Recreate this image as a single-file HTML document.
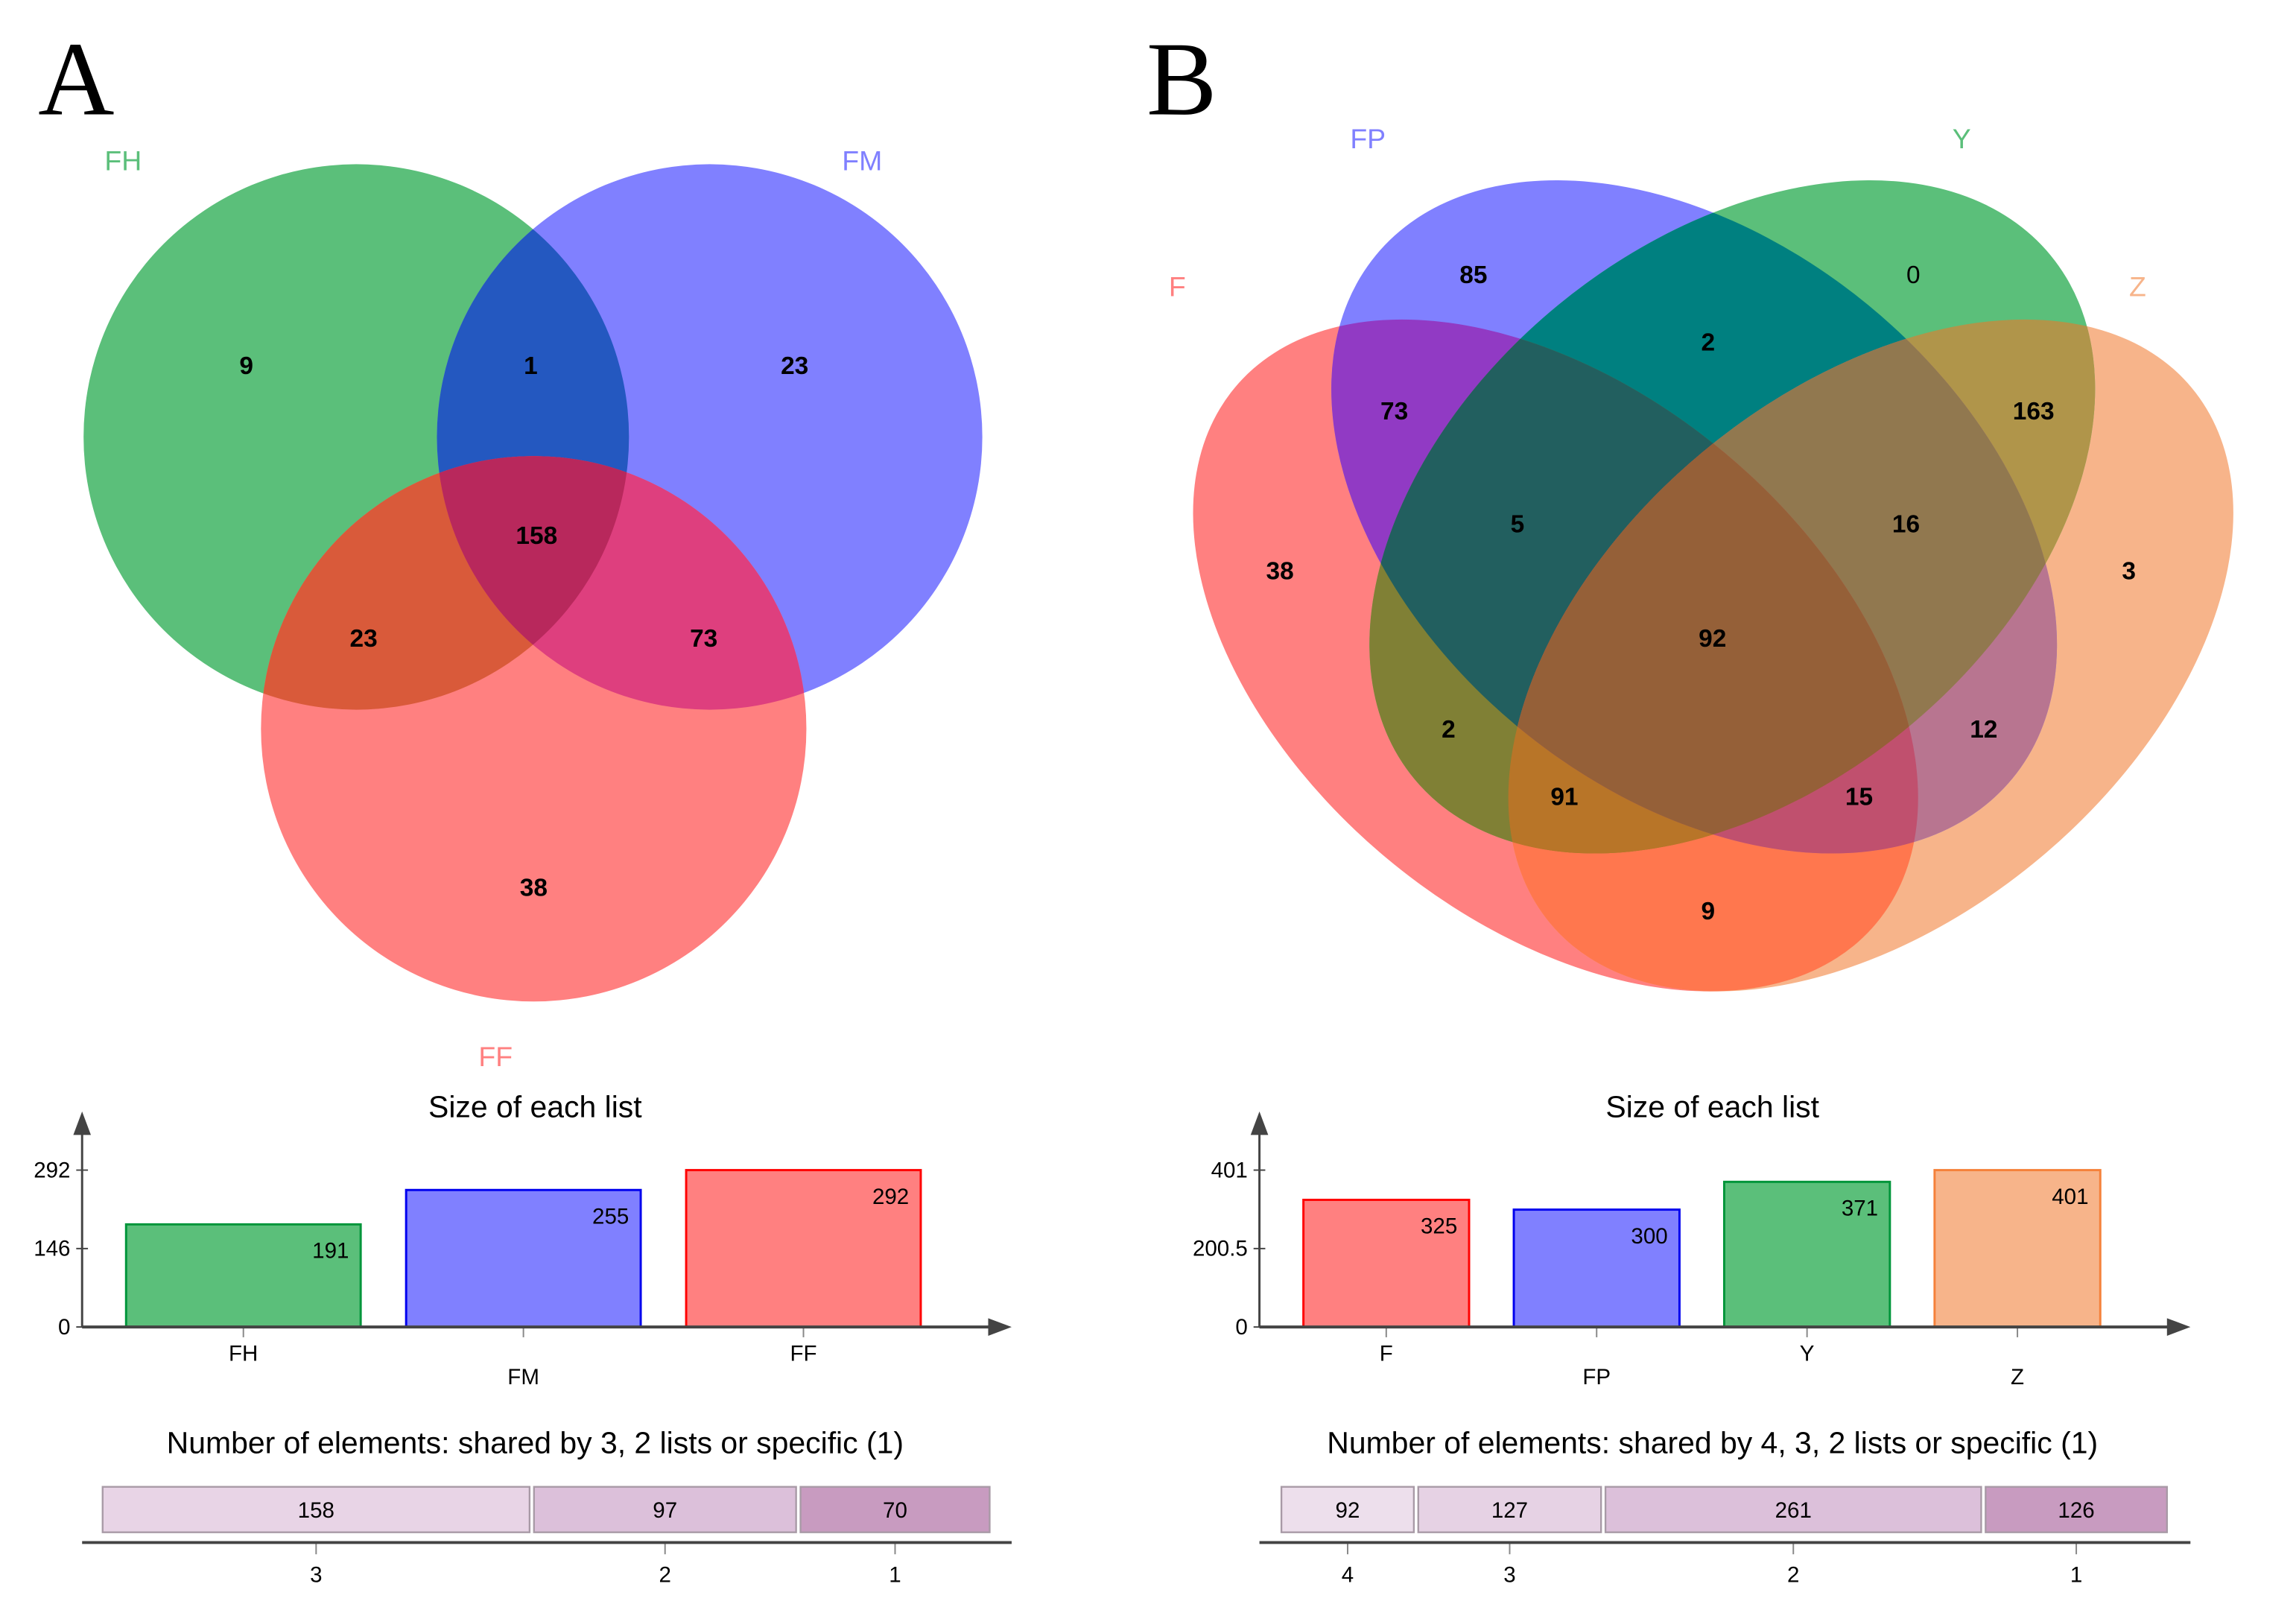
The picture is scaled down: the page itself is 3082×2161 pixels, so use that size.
<!DOCTYPE html>
<html><head><meta charset="utf-8"><style>
html,body{margin:0;padding:0;background:#fff;}
svg{display:block;}
text{font-family:"Liberation Sans",sans-serif;}
</style></head><body>
<svg id="root" xmlns="http://www.w3.org/2000/svg" width="3082" height="2161" viewBox="0 0 1566 1098" preserveAspectRatio="none">
<defs>
<clipPath id="cFH"><circle cx="243" cy="298" r="186"/></clipPath>
<clipPath id="cFM"><circle cx="484" cy="298" r="186"/></clipPath>
<clipPath id="cFF"><circle cx="364" cy="497" r="186"/></clipPath>
<clipPath id="cF"><ellipse cx="1061" cy="447" rx="285" ry="180" transform="rotate(39.9 1061 447)"/></clipPath>
<clipPath id="cFP"><ellipse cx="1155.5" cy="352.5" rx="281" ry="187" transform="rotate(39.4 1155.5 352.5)"/></clipPath>
<clipPath id="cY"><ellipse cx="1181.5" cy="352.5" rx="281" ry="187" transform="rotate(-39.4 1181.5 352.5)"/></clipPath>
<clipPath id="cZ"><ellipse cx="1276" cy="447" rx="285" ry="180" transform="rotate(-39.9 1276 447)"/></clipPath>
</defs>
<text x="52" y="78" font-size="72" text-anchor="middle" style="font-family:'Liberation Serif',serif">A</text>
<text x="806" y="78" font-size="72" text-anchor="middle" style="font-family:'Liberation Serif',serif">B</text>
<g id="vennA"></g>
<g id="vennB"></g>
<g id="barsA"></g>
<g id="barsB"></g>
<g id="shareA"></g>
<g id="shareB"></g>
</svg>
<script>
const NS="http://www.w3.org/2000/svg";
// Venn A data
const vennASets=["FH","FM","FF"];
const vennAValues=[9,1,23,158,23,73,38];
// Venn B data
const vennBSets=["F","FP","Y","Z"];
const vennBValues=[85,0,2,73,163,5,16,38,3,92,2,12,91,15,9];
// Bar chart A
const listA=["FH","FM","FF"];
const sizeA=[191,255,292];
const ticksA=[0,146,292];
// Bar chart B
const listB=["F","FP","Y","Z"];
const sizeB=[325,300,371,401];
const ticksB=[0,200.5,401];
// Shared A
const sharedCatA=["3","2","1"];
const sharedValA=[158,97,70];
// Shared B
const sharedCatB=["4","3","2","1"];
const sharedValB=[92,127,261,126];

function mk(tag,attrs,parent,txt){const e=document.createElementNS(NS,tag);for(const k in attrs)e.setAttribute(k,attrs[k]);if(txt!==undefined)e.textContent=txt;parent.appendChild(e);return e;}
function region(parent,clips,shape,fill,name){
  let p=parent;
  for(const c of clips){p=mk('g',{'clip-path':'url(#'+c+')'},p);}
  const s=mk(shape.t,Object.assign({},shape.a,{fill:fill}),p);
  
  
}
// Venn A
const vA=document.getElementById('vennA');
const cA={FH:{t:'circle',a:{cx:243,cy:298,r:186}},FM:{t:'circle',a:{cx:484,cy:298,r:186}},FF:{t:'circle',a:{cx:364,cy:497,r:186}}};
region(vA,[],cA.FH,'#5bbf7a','circle-fh');
region(vA,[],cA.FM,'#8080ff','circle-fm');
region(vA,[],cA.FF,'#ff8080','circle-ff');
region(vA,['cFH'],cA.FM,'#2458c0','overlap-fh-fm');
region(vA,['cFH'],cA.FF,'#d95a3a','overlap-fh-ff');
region(vA,['cFM'],cA.FF,'#de3f7e','overlap-fm-ff');
region(vA,['cFH','cFM'],cA.FF,'#b8285c','overlap-all-a');
const vAPos=[[168,249],[362,249],[542,249],[366,365],[248,435],[480,435],[364,605]];
vennAValues.forEach((v,i)=>{const t=mk('text',{x:vAPos[i][0],y:vAPos[i][1]+6,'font-size':17,'font-weight':'bold','text-anchor':'middle'},vA,v);

});
const vALab=[[84,109,'#5bbf7a'],[588,109,'#8080ff'],[338,720,'#ff8080']];
vennASets.forEach((s,i)=>{const t=mk('text',{x:vALab[i][0],y:vALab[i][1]+7,'font-size':19,fill:vALab[i][2],'text-anchor':'middle'},vA,s);

});
// Venn B
const vB=document.getElementById('vennB');
const eB={F:{t:'ellipse',a:{cx:1061,cy:447,rx:285,ry:180,transform:'rotate(39.9 1061 447)'}},
FP:{t:'ellipse',a:{cx:1155.5,cy:352.5,rx:281,ry:187,transform:'rotate(39.4 1155.5 352.5)'}},
Y:{t:'ellipse',a:{cx:1181.5,cy:352.5,rx:281,ry:187,transform:'rotate(-39.4 1181.5 352.5)'}},
Z:{t:'ellipse',a:{cx:1276,cy:447,rx:285,ry:180,transform:'rotate(-39.9 1276 447)'}}};
region(vB,[],eB.F,'#ff8080','ellipse-f');
region(vB,[],eB.Z,'#f7b48a','ellipse-z');
region(vB,[],eB.FP,'#8080ff','ellipse-fp');
region(vB,[],eB.Y,'#5bbf7a','ellipse-y');
region(vB,['cF'],eB.FP,'#913ac4','overlap-f-fp');
region(vB,['cFP'],eB.Y,'#008080','overlap-fp-y');
region(vB,['cY'],eB.Z,'#b0954a','overlap-y-z');
region(vB,['cF'],eB.Z,'#ff774e','overlap-f-z');
region(vB,['cF'],eB.Y,'#808035','overlap-f-y');
region(vB,['cFP'],eB.Z,'#b87590','overlap-fp-z');
region(vB,['cF','cFP'],eB.Y,'#225f5f','overlap-f-fp-y');
region(vB,['cFP','cY'],eB.Z,'#91784f','overlap-fp-y-z');
region(vB,['cF','cY'],eB.Z,'#b87528','overlap-f-y-z');
region(vB,['cF','cFP'],eB.Z,'#c0506e','overlap-f-fp-z');
region(vB,['cF','cFP','cY'],eB.Z,'#956038','overlap-all-b');
const vBPos=[[1005,187],[1305,187],[1165,233],[951,280],[1387,280],[1035,357],[1300,357],[873,389],[1452,389],[1168,435],[988,497],[1353,497],[1067,543],[1268,543],[1165,621]];
vennBValues.forEach((v,i)=>{const t=mk('text',{x:vBPos[i][0],y:vBPos[i][1]+6,'font-size':17,'font-weight':i===1?'normal':'bold','text-anchor':'middle'},vB,v);

});
const vBLab=[[803,195,'#ff8080'],[933,94,'#8080ff'],[1338,94,'#5bbf7a'],[1458,195,'#f7b48a']];
vennBSets.forEach((s,i)=>{const t=mk('text',{x:vBLab[i][0],y:vBLab[i][1]+7,'font-size':19,fill:vBLab[i][2],'text-anchor':'middle'},vB,s);

});

// Bar charts
function barChart(g,cx,axX,axEnd,x0,step,bw,cats,vals,ticks,fills,strokes){
  const y0=905,h=107,max=ticks[ticks.length-1];
  const ys=v=>y0-v/max*h;
  let t=mk('text',{x:cx,y:762,'font-size':20.8,'text-anchor':'middle'},g,'Size of each list');
  
  
  mk('line',{x1:axX,y1:y0,x2:axX,y2:770,stroke:'#444','stroke-width':1.5},g);
  mk('path',{d:`M${axX-6} ${774}L${axX} ${758}L${axX+6} ${774}Z`,fill:'#444'},g);
  ticks.forEach(v=>{const y=ys(v);mk('line',{x1:axX-4,y1:y,x2:axX+4,y2:y,stroke:'#444'},g);
    const tl=mk('text',{x:axX-8,y:y+5,'font-size':15,'text-anchor':'end'},g,v);
    
    });
  cats.forEach((c,i)=>{const x=x0+i*step,v=vals[i];
    const r=mk('rect',{x:x,y:ys(v),width:bw,height:y0-ys(v),fill:fills[i],stroke:strokes[i],'stroke-width':1.5},g);
    
    
    const vl=mk('text',{x:x+bw-8,y:ys(v)+23,'font-size':15,'text-anchor':'end'},g,v);
    
    
    mk('line',{x1:x+bw/2,y1:y0,x2:x+bw/2,y2:y0+7,stroke:'#888'},g);
    const xl=mk('text',{x:x+bw/2,y:(i%2?944:928),'font-size':15,'text-anchor':'middle'},g,c);
    
    });
  mk('line',{x1:axX,y1:y0,x2:axEnd-10,y2:y0,stroke:'#444','stroke-width':2},g);
  mk('path',{d:`M${axEnd-16} ${y0-6}L${axEnd} ${y0}L${axEnd-16} ${y0+6}Z`,fill:'#444'},g);
}
barChart(document.getElementById('barsA'),365,56,690,86,191,160,listA,sizeA,ticksA,['#5bbf7a','#8080ff','#ff8080'],['#00953a','#0000ee','#ff0000']);
barChart(document.getElementById('barsB'),1168,859,1494,889,143.5,113,listB,sizeB,ticksB,['#ff8080','#8080ff','#5bbf7a','#f7b48a'],['#ff0000','#0000ee','#00953a','#f5813a']);

function shareChart(g,cx,axX,axEnd,x0,width,cats,vals,fills,title){
  const total=vals.reduce((a,b)=>a+b,0);
  let t=mk('text',{x:cx,y:991,'font-size':20.8,'text-anchor':'middle'},g,title);
  
  
  let x=x0;
  const gap=3,avail=width-gap*(vals.length-1);
  vals.forEach((v,i)=>{const w=v/total*avail;
    const r=mk('rect',{x:x,y:1014,width:w,height:31,fill:fills[i],stroke:'#a89aa6','stroke-width':1.2},g);
    
    
    const vl=mk('text',{x:x+w/2,y:1035,'font-size':15,'text-anchor':'middle'},g,v);
    
    
    mk('line',{x1:x+w/2,y1:1052,x2:x+w/2,y2:1060,stroke:'#888'},g);
    const cl=mk('text',{x:x+w/2,y:1079,'font-size':15,'text-anchor':'middle'},g,cats[i]);
    
    
    x+=w+gap;});
  mk('line',{x1:axX,y1:1052,x2:axEnd,y2:1052,stroke:'#444','stroke-width':2},g);
}
shareChart(document.getElementById('shareA'),365,56,690,70,605,sharedCatA,sharedValA,['#e8d4e6','#dcc0da','#c89bc0'],'Number of elements: shared by 3, 2 lists or specific (1)');
shareChart(document.getElementById('shareB'),1168,859,1494,874,604,sharedCatB,sharedValB,['#eddfec','#e6d2e4','#dcc0da','#c89bc0'],'Number of elements: shared by 4, 3, 2 lists or specific (1)');
</script>
</body></html>
